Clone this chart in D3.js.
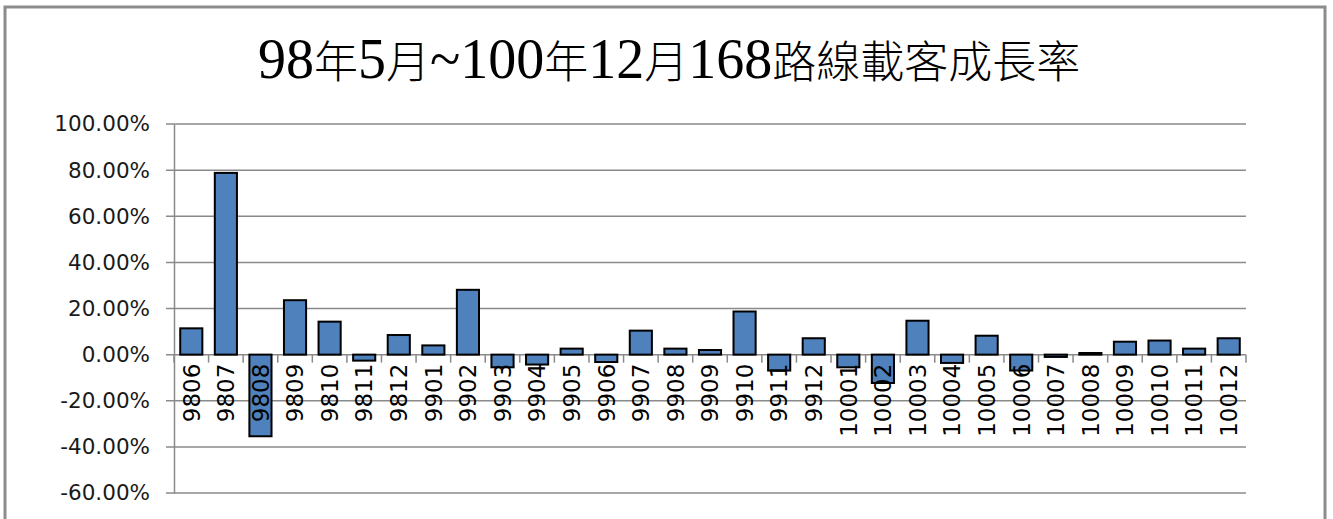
<!DOCTYPE html>
<html>
<head>
<meta charset="utf-8">
<script src="https://cdn.jsdelivr.net/npm/d3@7"></script>
<style>
  body { margin: 0; background: #fff; }
  svg { display: block; }
</style>
</head>
<body>
<svg id="chart"></svg>
<script>
// datos
const months = ["9806","9807","9808","9809","9810","9811","9812",
  "9901","9902","9903","9904","9905","9906","9907","9908","9909","9910","9911","9912",
  "10001","10002","10003","10004","10005","10006","10007","10008","10009","10010","10011","10012"];
const growth = [11.4, 78.8, -35.4, 23.6, 14.3, -2.6, 8.5,
  4.0, 28.1, -5.5, -4.3, 2.6, -3.2, 10.4, 2.6, 2.0, 18.7, -6.9, 7.1,
  -5.5, -12.3, 14.7, -3.6, 8.2, -6.9, -1.0, 0.7, 5.6, 6.1, 2.6, 7.1];
const yTicks = [100, 80, 60, 40, 20, 0, -20, -40, -60];
const title = "98年5月~100年12月168路線載客成長率";

const width = 1333, height = 519;
const plotLeft = 174, plotRight = 1246, plotTop = 124, plotBottom = 493;

const svg = d3.select("#chart")
    .attr("width", width)
    .attr("height", height);

// marco
svg.append("rect")
    .attr("x", 5).attr("y", 7)
    .attr("width", 1320).attr("height", 560)
    .attr("fill", "none")
    .attr("stroke", "#8c8c8c")
    .attr("stroke-width", 3);

// titulo: digitos en serif, CJK en Noto
const t = svg.append("text")
    .attr("x", 258).attr("y", 78)
    .attr("fill", "#000");
title.split(/([\u4e00-\u9fff]+)/).filter(s => s.length).forEach(s => {
    const cjk = /[\u4e00-\u9fff]/.test(s);
    t.append("tspan")
        .attr("font-family", cjk ? "'Noto Sans CJK TC'" : "'Liberation Serif'")
        .attr("font-size", cjk ? 44 : 56)
        .attr("font-weight", cjk ? 300 : 400)
        .text(s);
});

// escalas
const x = d3.scaleBand()
    .domain(months)
    .range([plotLeft, plotRight])
    .paddingInner(0.36)
    .paddingOuter(0.18);

const y = d3.scaleLinear()
    .domain([-60, 100])
    .range([plotBottom, plotTop]);

// lineas de cuadricula
svg.append("g")
    .selectAll("line")
    .data(yTicks)
    .join("line")
    .attr("x1", plotLeft - 8).attr("x2", plotRight)
    .attr("y1", d => y(d)).attr("y2", d => y(d))
    .attr("stroke", "#8a8a8a")
    .attr("stroke-width", 1.5);

// eje Y
const yAxis = d3.axisLeft(y)
    .tickValues(yTicks)
    .tickSize(0)
    .tickPadding(24)
    .tickFormat(d => d.toFixed(2) + "%");

svg.append("g")
    .attr("transform", `translate(${plotLeft},0)`)
    .call(yAxis)
    .call(g => g.select(".domain").attr("stroke", "#8a8a8a").attr("stroke-width", 1.5))
    .call(g => g.selectAll("text")
        .attr("font-family", "'DejaVu Sans'")
        .attr("font-size", 21.5)
        .attr("fill", "#1a1a1a"));

// marcas del eje X (entre categorias)
svg.append("g")
    .selectAll("line")
    .data(months.map((m, i) => i).concat([months.length]))
    .join("line")
    .attr("x1", i => plotLeft + i * x.step())
    .attr("x2", i => plotLeft + i * x.step())
    .attr("y1", y(0)).attr("y2", y(0) + 8)
    .attr("stroke", "#8a8a8a")
    .attr("stroke-width", 1.5);

// barras
svg.append("g")
    .selectAll("rect")
    .data(growth)
    .join("rect")
    .attr("x", (d, i) => x(months[i]))
    .attr("y", d => y(Math.max(0, d)))
    .attr("width", x.bandwidth())
    .attr("height", d => Math.abs(y(d) - y(0)))
    .attr("fill", "#4f81bd")
    .attr("stroke", "#000")
    .attr("stroke-width", 2);

// etiquetas X giradas
svg.append("g")
    .selectAll("text")
    .data(months)
    .join("text")
    .attr("transform", d => `translate(${x(d) + x.bandwidth() / 2},${y(0) + 9}) rotate(-90)`)
    .attr("text-anchor", "end")
    .attr("dy", "0.36em")
    .attr("font-family", "'DejaVu Sans'")
    .attr("font-size", 23)
    .attr("fill", "#000")
    .text(d => d);
</script>
</body>
</html>
